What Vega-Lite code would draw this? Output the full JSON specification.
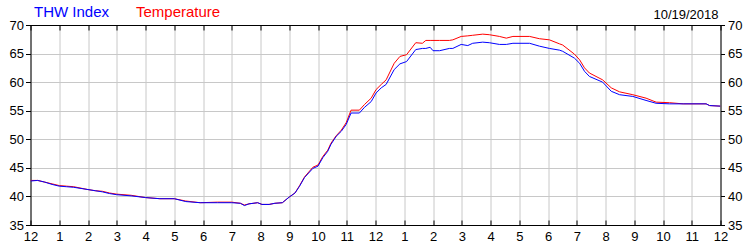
{
  "$schema": "https://vega.github.io/schema/vega-lite/v6.json",
  "width": 690,
  "height": 200,
  "autosize": "none",
  "padding": {"left": 30.5, "top": 25, "right": 29.5, "bottom": 25},
  "background": "white",
  "title": {"text": "10/19/2018", "anchor": "end", "frame": "group", "dx": -2, "dy": 25, "offset": 7, "fontSize": 13, "fontWeight": "normal", "font": "Liberation Sans", "color": "#000000"},
  "config": {"view": {"stroke": null}},
  "data": {"values": [
    {"h": 0.0, "thw": 42.7, "temp": 42.8},
    {"h": 0.25, "thw": 42.8, "temp": 42.8},
    {"h": 0.5, "thw": 42.5, "temp": 42.5},
    {"h": 0.75, "thw": 42.1, "temp": 42.2},
    {"h": 1.0, "thw": 41.8, "temp": 41.9},
    {"h": 1.25, "thw": 41.7, "temp": 41.8},
    {"h": 1.5, "thw": 41.6, "temp": 41.7},
    {"h": 2.0, "thw": 41.2, "temp": 41.2},
    {"h": 2.25, "thw": 41.0, "temp": 41.0},
    {"h": 2.5, "thw": 40.8, "temp": 40.9},
    {"h": 2.75, "thw": 40.5, "temp": 40.6},
    {"h": 3.0, "thw": 40.3, "temp": 40.4},
    {"h": 3.5, "thw": 40.1, "temp": 40.2},
    {"h": 4.0, "thw": 39.8, "temp": 39.8},
    {"h": 4.5, "thw": 39.6, "temp": 39.6},
    {"h": 5.0, "thw": 39.6, "temp": 39.6},
    {"h": 5.4, "thw": 39.1, "temp": 39.2},
    {"h": 5.9, "thw": 38.9, "temp": 38.9},
    {"h": 6.5, "thw": 38.9, "temp": 39.0},
    {"h": 7.0, "thw": 38.9, "temp": 39.0},
    {"h": 7.3, "thw": 38.8, "temp": 38.8},
    {"h": 7.44, "thw": 38.4, "temp": 38.5},
    {"h": 7.6, "thw": 38.7, "temp": 38.7},
    {"h": 7.9, "thw": 38.9, "temp": 38.9},
    {"h": 8.05, "thw": 38.6, "temp": 38.6},
    {"h": 8.3, "thw": 38.6, "temp": 38.6},
    {"h": 8.5, "thw": 38.8, "temp": 38.8},
    {"h": 8.76, "thw": 38.9, "temp": 38.9},
    {"h": 9.0, "thw": 39.9, "temp": 39.9},
    {"h": 9.2, "thw": 40.6, "temp": 40.6},
    {"h": 9.36, "thw": 41.8, "temp": 41.9},
    {"h": 9.53, "thw": 43.3, "temp": 43.4},
    {"h": 9.82, "thw": 44.9, "temp": 45.1},
    {"h": 10.0, "thw": 45.3, "temp": 45.5},
    {"h": 10.17, "thw": 46.8, "temp": 47.0},
    {"h": 10.34, "thw": 47.9, "temp": 48.1},
    {"h": 10.45, "thw": 49.1, "temp": 49.3},
    {"h": 10.63, "thw": 50.5, "temp": 50.6},
    {"h": 10.81, "thw": 51.4, "temp": 51.6},
    {"h": 10.98, "thw": 52.6, "temp": 52.9},
    {"h": 11.15, "thw": 54.6, "temp": 55.1},
    {"h": 11.44, "thw": 54.6, "temp": 55.1},
    {"h": 11.62, "thw": 55.6, "temp": 56.1},
    {"h": 11.85, "thw": 56.6, "temp": 57.2},
    {"h": 12.02, "thw": 58.1, "temp": 58.7},
    {"h": 12.2, "thw": 59.0, "temp": 59.6},
    {"h": 12.37, "thw": 59.6, "temp": 60.4},
    {"h": 12.65, "thw": 62.2, "temp": 63.3},
    {"h": 12.85, "thw": 63.2, "temp": 64.5},
    {"h": 13.08, "thw": 63.6, "temp": 64.8},
    {"h": 13.4, "thw": 65.7, "temp": 66.9},
    {"h": 13.63, "thw": 65.9, "temp": 66.8},
    {"h": 13.75, "thw": 65.9, "temp": 67.3},
    {"h": 13.9, "thw": 66.1, "temp": 67.3},
    {"h": 14.0, "thw": 65.5, "temp": 67.3},
    {"h": 14.23, "thw": 65.5, "temp": 67.3},
    {"h": 14.57, "thw": 65.9, "temp": 67.3},
    {"h": 14.69, "thw": 65.9, "temp": 67.4},
    {"h": 14.98, "thw": 66.6, "temp": 68.0},
    {"h": 15.21, "thw": 66.4, "temp": 68.1},
    {"h": 15.38, "thw": 66.8, "temp": 68.2},
    {"h": 15.73, "thw": 67.0, "temp": 68.4},
    {"h": 15.96, "thw": 66.9, "temp": 68.3},
    {"h": 16.31, "thw": 66.6, "temp": 68.0},
    {"h": 16.55, "thw": 66.6, "temp": 67.7},
    {"h": 16.78, "thw": 66.8, "temp": 68.0},
    {"h": 17.36, "thw": 66.8, "temp": 68.0},
    {"h": 17.7, "thw": 66.3, "temp": 67.6},
    {"h": 18.05, "thw": 65.9, "temp": 67.4},
    {"h": 18.4, "thw": 65.6, "temp": 66.7},
    {"h": 18.51, "thw": 65.4, "temp": 66.5},
    {"h": 18.92, "thw": 64.2, "temp": 64.9},
    {"h": 19.1, "thw": 63.3, "temp": 63.9},
    {"h": 19.27, "thw": 61.9, "temp": 62.5},
    {"h": 19.44, "thw": 61.0, "temp": 61.6},
    {"h": 19.9, "thw": 60.0, "temp": 60.4},
    {"h": 20.2, "thw": 58.4, "temp": 59.0},
    {"h": 20.49, "thw": 57.8, "temp": 58.3},
    {"h": 20.95, "thw": 57.5, "temp": 57.8},
    {"h": 21.41, "thw": 56.8, "temp": 57.2},
    {"h": 21.76, "thw": 56.3, "temp": 56.5},
    {"h": 22.23, "thw": 56.2, "temp": 56.4},
    {"h": 22.7, "thw": 56.2, "temp": 56.2},
    {"h": 23.5, "thw": 56.2, "temp": 56.2},
    {"h": 23.62, "thw": 55.9, "temp": 55.9},
    {"h": 24.0, "thw": 55.8, "temp": 55.8}
  ]},
  "transform": [{"fold": ["temp", "thw"], "as": ["series", "value"]}],
  "layer": [
    {
      "mark": {"type": "line", "strokeWidth": 1, "clip": true},
      "encoding": {
        "x": {"field": "h", "type": "quantitative",
          "scale": {"domain": [0, 24], "nice": false, "zero": false},
          "axis": {"orient": "bottom", "title": null, "values": [0,1,2,3,4,5,6,7,8,9,10,11,12,13,14,15,16,17,18,19,20,21,22,23,24],
            "labelExpr": "datum.value % 12 == 0 ? '12' : '' + (datum.value % 12)",
            "grid": true, "gridColor": "#c8c8c8", "gridWidth": 1,
            "domainColor": "#000000", "domainWidth": 1, "tickColor": "#000000", "tickSize": -5,
            "labelFont": "Liberation Sans", "labelFontSize": 13, "labelColor": "#000000", "labelPadding": 10, "labelFlush": false, "labelOverlap": false}},
        "y": {"field": "value", "type": "quantitative",
          "scale": {"domain": [35, 70], "nice": false, "zero": false},
          "axis": {"orient": "left", "title": null, "values": [35,40,45,50,55,60,65,70],
            "grid": true, "gridColor": "#c8c8c8", "gridWidth": 1,
            "domainColor": "#000000", "domainWidth": 1, "tickColor": "#000000", "tickSize": 5,
            "labelFont": "Liberation Sans", "labelFontSize": 13, "labelColor": "#000000", "labelPadding": 2, "labelFlush": false}},
        "color": {"field": "series", "type": "nominal",
          "scale": {"domain": ["thw", "temp"], "range": ["#0000ff", "#ff0000"]},
          "legend": {"orient": "none", "legendX": -11.5, "legendY": -21, "direction": "horizontal", "title": null,
            "labelExpr": "datum.label == 'thw' ? 'THW Index' : 'Temperature'",
            "labelFont": "Liberation Sans", "labelFontSize": 15, "labelOffset": 0, "gridAlign": "none",
            "symbolSize": 0, "symbolOpacity": 0, "symbolStrokeWidth": 0, "columnPadding": 11, "padding": 0,
            "encode": {"labels": {"update": {"fill": {"signal": "datum.value == 'thw' ? '#0000ff' : '#ff0000'"}}}}}}
      }
    },
    {
      "mark": {"type": "line", "opacity": 0},
      "encoding": {
        "x": {"field": "h", "type": "quantitative",
          "axis": {"orient": "top", "title": null, "values": [0,1,2,3,4,5,6,7,8,9,10,11,12,13,14,15,16,17,18,19,20,21,22,23,24],
            "labels": false, "grid": false, "domainColor": "#000000", "tickColor": "#000000", "tickSize": -5}},
        "y": {"field": "value", "type": "quantitative",
          "axis": {"orient": "right", "title": null, "values": [35,40,45,50,55,60,65,70],
            "grid": false, "domainColor": "#000000", "tickColor": "#000000", "tickSize": 4,
            "labelFont": "Liberation Sans", "labelFontSize": 13, "labelColor": "#000000", "labelPadding": 3, "labelFlush": false}},
        "detail": {"field": "series"}
      }
    }
  ],
  "resolve": {"axis": {"x": "independent", "y": "independent"}}
}
